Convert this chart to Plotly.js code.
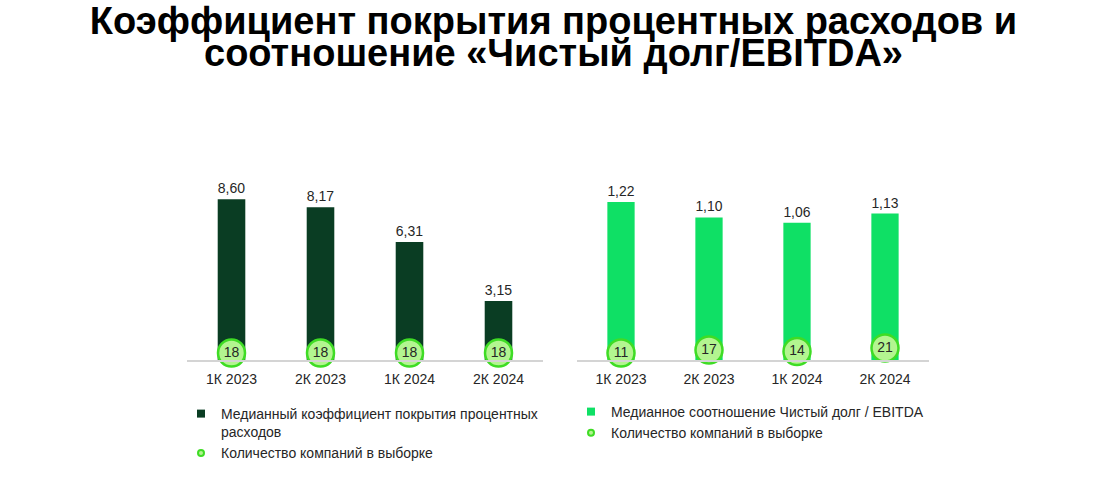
<!DOCTYPE html>
<html>
<head>
<meta charset="utf-8">
<script src="https://cdn.plot.ly/plotly-3.0.1.min.js"></script>
<style>
  html, body { margin: 0; padding: 0; background: #fff; }
  #chart { width: 1107px; height: 489px; }
</style>
</head>
<body>
<div id="chart"></div>
<script>
// data
var quarters = ['1К 2023', '2К 2023', '1К 2024', '2К 2024'];
var coverage = [8.60, 8.17, 6.31, 3.15];        // median interest coverage
var coverage_counts = [18, 18, 18, 18];
var debt_ebitda = [1.22, 1.10, 1.06, 1.13];     // median net debt / EBITDA
var debt_counts = [11, 17, 14, 21];

var name_cov = 'Медианный коэффициент покрытия процентных<br>расходов';
var name_debt = 'Медианное соотношение Чистый долг / EBITDA';
var name_cnt = 'Количество компаний в выборке';

var dark_green = '#0a3d23';
var bright_green = '#0fe065';
var dot_fill = '#b3f590';
var dot_line = '#3fdc25';
var txt = '#262626';
var font = 'Liberation Sans, Arial, sans-serif';

var W = 1107, H = 489;
function px_x(a, b) { return [a / W, b / W]; }
function px_y(top, bottom) { return [(H - bottom) / H, (H - top) / H]; }

var count_marker = { size: 27, color: dot_fill, line: { color: dot_line, width: 2.5 } };
var legend_dot = { size: 6, color: dot_fill, line: { color: dot_line, width: 2 } };

var data = [
    { type: 'bar', x: quarters, y: coverage, xaxis: 'x', yaxis: 'y',
      name: name_cov, showlegend: false,
      marker: { color: dark_green },
      texttemplate: '%{y:.2f}', textposition: 'outside', cliponaxis: false,
      textfont: { size: 14, color: txt, family: font }, hoverinfo: 'skip' },
    { type: 'scatter', mode: 'markers+text', x: quarters, y: coverage_counts,
      xaxis: 'x', yaxis: 'y3', showlegend: false, cliponaxis: false,
      marker: count_marker, text: coverage_counts, textposition: 'middle center',
      textfont: { size: 14, color: txt, family: font }, hoverinfo: 'skip' },
    { type: 'bar', x: quarters, y: debt_ebitda, xaxis: 'x2', yaxis: 'y2',
      name: name_debt, showlegend: false,
      marker: { color: bright_green },
      texttemplate: '%{y:.2f}', textposition: 'outside', cliponaxis: false,
      textfont: { size: 14, color: txt, family: font }, hoverinfo: 'skip' },
    { type: 'scatter', mode: 'markers+text', x: quarters, y: debt_counts,
      xaxis: 'x2', yaxis: 'y4', showlegend: false, cliponaxis: false,
      marker: count_marker, text: debt_counts, textposition: 'middle center',
      textfont: { size: 14, color: txt, family: font }, hoverinfo: 'skip' },
    // legend entries (small symbols like the original)
    { type: 'scatter', mode: 'markers', x: [null], y: [null], xaxis: 'x', yaxis: 'y',
      name: name_cov, legend: 'legend',
      marker: { size: 8, symbol: 'square', color: dark_green } },
    { type: 'scatter', mode: 'markers', x: [null], y: [null], xaxis: 'x', yaxis: 'y3',
      name: name_cnt, legend: 'legend', marker: legend_dot },
    { type: 'scatter', mode: 'markers', x: [null], y: [null], xaxis: 'x2', yaxis: 'y2',
      name: name_debt, legend: 'legend2',
      marker: { size: 8, symbol: 'square', color: bright_green } },
    { type: 'scatter', mode: 'markers', x: [null], y: [null], xaxis: 'x2', yaxis: 'y4',
      name: name_cnt, legend: 'legend2', marker: legend_dot }
];

var xcommon = { showline: true, linecolor: '#d4d4d4', linewidth: 1.5, ticks: '',
                showgrid: false, zeroline: false, fixedrange: true, ticklabelstandoff: 6,
                tickfont: { size: 14, color: txt, family: font } };
var ycommon = { visible: false, showgrid: false, zeroline: false, fixedrange: true };
var ydom = px_y(173, 360);

var legcommon = { font: { size: 14, color: txt, family: font }, bgcolor: 'rgba(0,0,0,0)',
                  xanchor: 'left', yanchor: 'top', valign: 'top', tracegroupgap: 0 };

var layout = {
    width: W, height: H,
    margin: { l: 0, r: 0, t: 0, b: 0 },
    paper_bgcolor: '#fff', plot_bgcolor: '#fff',
    separators: ', ',
    font: { family: font, color: txt },
    bargap: 0.69,
    showlegend: true,
    title: { text: '<b>Коэффициент покрытия процентных расходов и</b>',
             font: { size: 38, color: '#000', family: font },
             x: 0.5, xanchor: 'center', yref: 'container', y: 1 - 21 / H, yanchor: 'middle' },
    annotations: [
        { text: '<b>соотношение «Чистый долг/EBITDA»</b>', showarrow: false,
          xref: 'paper', yref: 'paper', x: 0.5, y: 1 - 53 / H, xanchor: 'center', yanchor: 'middle',
          font: { size: 38, color: '#000', family: font } }
    ],
    xaxis: Object.assign({}, xcommon, { domain: px_x(187, 543), anchor: 'y', range: [-0.5, 3.5] }),
    xaxis2: Object.assign({}, xcommon, { domain: px_x(577, 929), anchor: 'y2', range: [-0.5, 3.5] }),
    yaxis: Object.assign({}, ycommon, { domain: ydom, anchor: 'x', range: [0, 10] }),
    yaxis2: Object.assign({}, ycommon, { domain: ydom, anchor: 'x2', range: [0, 1.443] }),
    yaxis3: Object.assign({}, ycommon, { overlaying: 'y', anchor: 'x', range: [4, 378] }),
    yaxis4: Object.assign({}, ycommon, { overlaying: 'y2', anchor: 'x2', range: [-3, 371] }),
    legend: Object.assign({}, legcommon, { x: 181 / W, y: (H - 398) / H }),
    legend2: Object.assign({}, legcommon, { x: 571 / W, y: (H - 396) / H })
};

Plotly.newPlot('chart', data, layout, { staticPlot: true });
</script>
</body>
</html>
